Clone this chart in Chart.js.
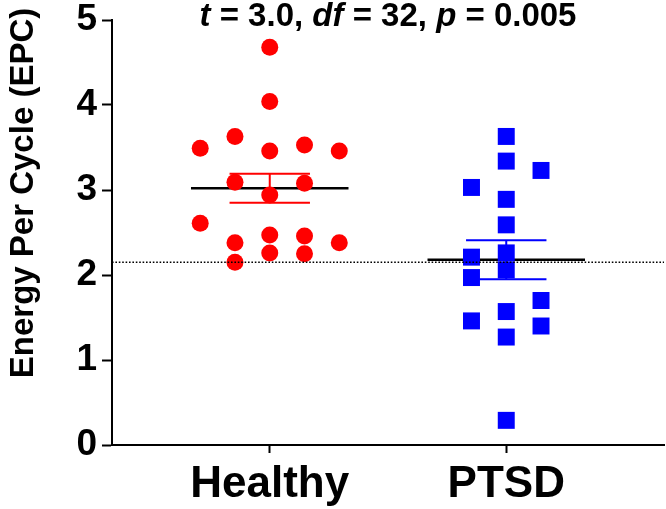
<!DOCTYPE html>
<html lang="en">
<head>
<meta charset="UTF-8">
<title>Energy Per Cycle</title>
<script src="https://cdn.jsdelivr.net/npm/chart.js"></script>
<style>
  html, body { margin: 0; padding: 0; background: #fff; }
  canvas { display: block; }
</style>
</head>
<body>
<canvas id="epc" width="666" height="509"></canvas>
<script>
const groups = ['Healthy', 'PTSD'];

// values, plus the swarm column each dot sits in
const healthyEPC = [4.68, 4.04, 3.63, 3.49, 3.46, 3.53, 3.46, 3.09, 3.08, 2.94, 2.61, 2.38, 2.47, 2.46, 2.38, 2.26, 2.25, 2.15];
const healthyCol = [0, 0, -1, -2, 0, 1, 2, -1, 1, 0, -2, -1, 0, 1, 2, 0, 1, -1];
const ptsdEPC = [3.63, 3.34, 3.23, 3.03, 2.89, 2.59, 2.21, 2.26, 2.06, 1.97, 1.70, 1.57, 1.46, 1.40, 1.27, 0.29];
const ptsdCol = [0, 0, 1, -1, 0, 0, -1, 0, 0, -1, 1, 0, -1, 1, 0, 0];

const groupMean = [3.02, 2.18];
const groupSEM = [0.17, 0.23];
const refLine = 2.15;
const statText = [['t', true], [' = 3.0, ', false], ['df', true], [' = 32, ', false], ['p', true], [' = 0.005', false]];
const yTitle = 'Energy Per Cycle (EPC)';

const FONT = "'Liberation Sans', Arial, sans-serif";
const colStep = 0.147;
const meanHalf = 0.333;
const capHalf = 0.17;

function swarm(vals, cols, center) {
  return vals.map((v, i) => ({ x: center + cols[i] * colStep, y: v }));
}

function meanLine(i) {
  const c = i + 1;
  return [{ x: c - meanHalf, y: groupMean[i] }, { x: c + meanHalf, y: groupMean[i] }];
}

function errBar(i) {
  const c = i + 1, hi = groupMean[i] + groupSEM[i], lo = groupMean[i] - groupSEM[i];
  return [
    { x: c - capHalf, y: hi }, { x: c + capHalf, y: hi }, { x: c, y: null },
    { x: c, y: hi }, { x: c, y: lo }, { x: c, y: null },
    { x: c - capHalf, y: lo }, { x: c + capHalf, y: lo }
  ];
}

const lineDs = (data, color, width, order, dash) => ({
  type: 'scatter', data, showLine: true, spanGaps: false,
  borderColor: color, borderWidth: width, borderDash: dash || [],
  pointRadius: 0, fill: false, order
});

// text that Chart.js can't do on its own: mixed italic title, off-centre y title
const textPlugin = {
  id: 'texts',
  afterDraw(chart) {
    const ctx = chart.ctx, area = chart.chartArea;
    ctx.save();
    ctx.fillStyle = '#000';
    ctx.textBaseline = 'alphabetic';
    let total = 0;
    statText.forEach(([s, it]) => {
      ctx.font = (it ? 'italic ' : '') + 'bold 33px ' + FONT;
      total += ctx.measureText(s).width;
    });
    let x = (area.left + area.right) / 2 - total / 2;
    statText.forEach(([s, it]) => {
      ctx.font = (it ? 'italic ' : '') + 'bold 33px ' + FONT;
      ctx.textAlign = 'left';
      ctx.fillText(s, x, 26);
      x += ctx.measureText(s).width;
    });
    ctx.translate(33, 193);
    ctx.rotate(-Math.PI / 2);
    ctx.font = 'bold 33px ' + FONT;
    ctx.textAlign = 'center';
    ctx.fillText(yTitle, 0, 0);
    ctx.restore();
  }
};

new Chart(document.getElementById('epc'), {
  type: 'scatter',
  data: {
    datasets: [
      lineDs([{ x: 0.333, y: refLine }, { x: 2.667, y: refLine }], '#000', 1.6, 0, [1.6, 1.8]),
      lineDs(errBar(0), '#ff0000', 2, 1),
      lineDs(errBar(1), '#0000ff', 2, 1),
      {
        label: groups[0], data: swarm(healthyEPC, healthyCol, 1),
        pointStyle: 'circle', pointRadius: 8.5, backgroundColor: '#ff0000',
        borderWidth: 0, order: 2
      },
      {
        label: groups[1], data: swarm(ptsdEPC, ptsdCol, 2),
        pointStyle: 'rect', pointRadius: 12, backgroundColor: '#0000ff',
        borderWidth: 0, order: 2
      },
      lineDs(meanLine(0), '#000', 2.4, 3),
      lineDs(meanLine(1), '#000', 2.4, 3)
    ]
  },
  options: {
    responsive: false,
    animation: false,
    layout: { autoPadding: false, padding: { top: 20, right: 2, left: 0, bottom: 0 } },
    plugins: { legend: { display: false }, tooltip: { enabled: false } },
    scales: {
      x: {
        type: 'linear', min: 0.333, max: 2.667,
        afterBuildTicks: s => { s.ticks = [{ value: 1 }, { value: 2 }]; },
        afterFit: s => { s.height = 64; s.paddingLeft = 0; s.paddingRight = 0; },
        ticks: {
          callback: v => groups[v - 1],
          color: '#000', padding: 10,
          font: { family: FONT, size: 44, weight: 'bold', lineHeight: 1 }
        },
        grid: { drawOnChartArea: false, tickLength: 8, tickWidth: 2, tickColor: '#000' },
        border: { display: true, color: '#000', width: 2 }
      },
      y: {
        min: 0, max: 5,
        afterFit: s => { s.width = 112; s.paddingTop = 0; s.paddingBottom = 0; },
        ticks: {
          stepSize: 1, color: '#000', padding: 5,
          font: { family: FONT, size: 37, weight: 'bold', lineHeight: 1 }
        },
        grid: { drawOnChartArea: false, tickLength: 10, tickWidth: 2, tickColor: '#000' },
        border: { display: true, color: '#000', width: 2 }
      }
    }
  },
  plugins: [textPlugin]
});
</script>
</body>
</html>
